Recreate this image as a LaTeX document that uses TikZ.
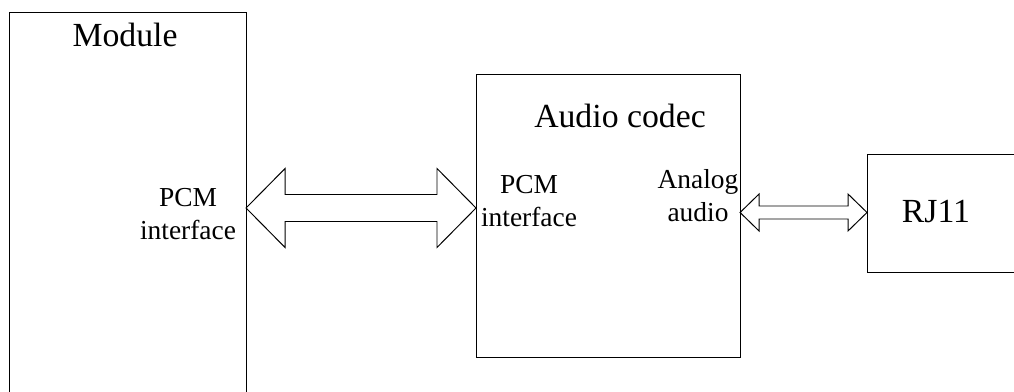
\documentclass[tikz,border=0pt]{standalone}
\usepackage{fontspec}
\setmainfont{Liberation Serif}
\usetikzlibrary{calc}
\usetikzlibrary{positioning}
\tikzset{blk/.style = {draw, line width = 0.7pt, inner sep = 0, outer sep = 0, anchor = north west},
  bigtxt/.style = {font = \fontsize{24}{28}\selectfont, inner sep = 0},
  smalltxt/.style = {font = \fontsize{19.5}{24}\selectfont, inner sep = 0, align = center},
  arrowline/.style = {line width = 0.7pt, line join = miter}}

% outline double arrow: left tip, right tip, head half-height, shaft half-height, head length
\newcommand{\biarrow}[5]{%
  \draw [arrowline] (#1) -- ++(#5, #3) -- ++(0, {#4 - #3}) -- ($(#2) + (-#5, #4)$)
    -- ++(0, {#3 - #4}) -- (#2) -- ++(-#5, -#3) -- ++(0, {#3 - #4})
    -- ($(#1) + (#5, -#4)$) -- ++(0, {#4 - #3}) -- cycle;}

\begin{document}
\begin{tikzpicture}[x = 0.025cm, y = -0.025cm]
          \useasboundingbox (0, 0) rectangle (1014, 392);
          \clip (0, 0) rectangle (1014, 392);

          \node [blk, minimum width = 5.925cm, minimum height = 9.7cm] (module) at (9, 12) {};
          \node [blk, minimum width = 6.6cm, minimum height = 7.075cm] (codec) at (476, 74) {};
          \node [blk, minimum width = 4.2cm, minimum height = 2.95cm] (rj) at (867, 154) {};

          \node [bigtxt, anchor = base] (modlbl) at (125, 47) {Module};
          \node [bigtxt, anchor = base] (codeclbl) at (620, 128) {Audio codec};
          \node [bigtxt, anchor = base] (rjlbl) at (936, 223) {RJ11};

          % base anchor sits on the last line
          \node [smalltxt, anchor = base] (pcmmod) at (188, 240) {PCM\\interface};
          \node [smalltxt, anchor = base] (pcmcodec) at (529, 227) {PCM\\interface};
          \node [smalltxt, anchor = base] (analog) at (698, 222) {Analog\\audio};

          \coordinate (ma) at (module.east |- 0, 208);
          \coordinate (ca) at (codec.west |- 0, 208);
          \biarrow{ma}{ca}{39.5}{13.5}{39}

          \coordinate (cb) at (codec.east |- 0, 212.5);
          \coordinate (rb) at (rj.west |- 0, 212.5);
          \biarrow{cb}{rb}{18.5}{6.5}{19}
        \end{tikzpicture}
\end{document}
